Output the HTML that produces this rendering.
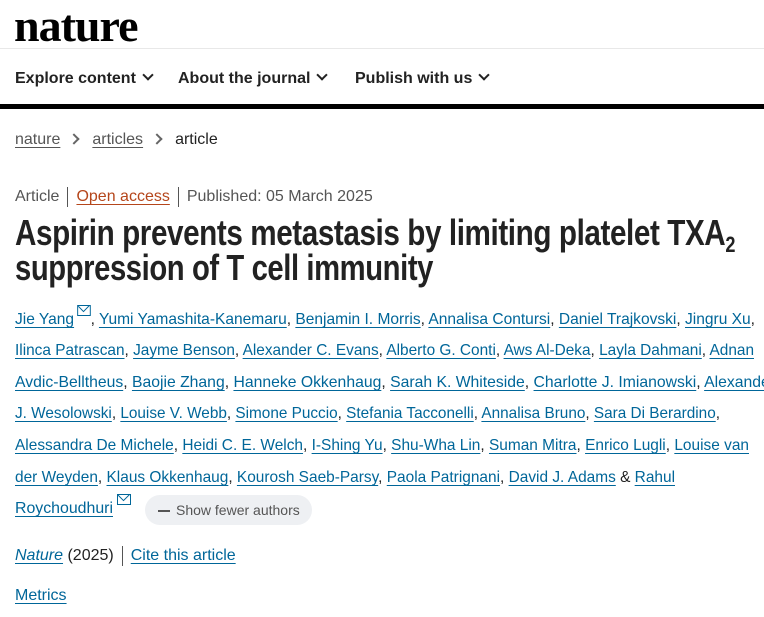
<!DOCTYPE html>
<html><head><meta charset="utf-8">
<style>
body{margin:0;width:764px;height:617px;overflow:hidden;background:#fff;font-family:"Liberation Sans",sans-serif;color:#222;position:relative}
.abs{position:absolute;white-space:nowrap}
a{color:#006699;text-decoration:underline;text-underline-offset:3px}
.fit{transform-origin:0 50%;display:inline-block;white-space:nowrap}
.nav{font-weight:bold;font-size:16px;color:#222;top:70px}
.chev{display:inline-block;width:6px;height:6px;border-right:2px solid #222;border-bottom:2px solid #222;transform:rotate(45deg);margin-left:8px;position:relative;top:-4px}
.auth{left:15px;font-size:16px;line-height:20px}
.sep{display:inline-block;width:1px;height:20px;background:#555;vertical-align:middle;margin:0 8px}
.bc{display:inline-block;width:6px;height:6px;border-right:2px solid #666;border-top:2px solid #666;transform:rotate(45deg);margin:0 14px 0 10px;position:relative;top:-1px}
.mail{display:inline-block;width:12px;height:9px;border:1.5px solid #006699;position:relative;top:-8px;margin-left:3px;overflow:hidden}
.mail:after{content:"";position:absolute;left:0px;top:-7px;width:9px;height:9px;border:1.5px solid #006699;transform:rotate(45deg)}
.tl{position:absolute;left:15px;width:1200px;white-space:nowrap;font-weight:bold;font-size:36px;color:#222;line-height:36px;letter-spacing:-0.5px}
</style></head><body>
<div class="abs" style="left:14px;top:-1px;font-family:'Liberation Serif',serif;font-weight:bold;font-size:46px;letter-spacing:-1px;color:#000">nature</div>
<div class="abs" style="left:0;top:48px;width:764px;height:1px;background:#e8e8e8"></div>
<div class="abs nav" style="left:15px">Explore content<span class="chev"></span></div>
<div class="abs nav" style="left:178px">About the journal<span class="chev"></span></div>
<div class="abs nav" style="left:355px">Publish with us<span class="chev"></span></div>
<div class="abs" style="left:0;top:104px;width:764px;height:5px;background:#000"></div>
<div class="abs" style="left:15px;top:131px;font-size:16px;color:#222">
<a style="color:#555" href="#">nature</a><span class="bc"></span><a style="color:#555" href="#">articles</a><span class="bc"></span>article</div>
<div class="abs" style="left:15px;top:187px;font-size:16px;color:#555">Article<span class="sep"></span><a style="color:#b5461b" href="#">Open access</a><span class="sep"></span>Published: 05 March 2025</div>
<div>
<div class="tl" style="top:215px"><span class="fit" data-w="720">Aspirin prevents metastasis by limiting platelet TXA<span style="font-size:22px;position:relative;top:7px">2</span></span></div>
<div class="tl" style="top:250px"><span class="fit" data-w="418">suppression of T cell immunity</span></div>
</div>
<div>
<div class="abs auth" style="top:310px"><span class="fit" data-w="740"><a href="#">Jie Yang</a><span class="mail"></span>, <a href="#">Yumi Yamashita-Kanemaru</a>, <a href="#">Benjamin I. Morris</a>, <a href="#">Annalisa Contursi</a>, <a href="#">Daniel Trajkovski</a>, <a href="#">Jingru Xu</a>,</span></div>
<div class="abs auth" style="top:341px"><span class="fit" data-w="739"><a href="#">Ilinca Patrascan</a>, <a href="#">Jayme Benson</a>, <a href="#">Alexander C. Evans</a>, <a href="#">Alberto G. Conti</a>, <a href="#">Aws Al-Deka</a>, <a href="#">Layla Dahmani</a>, <a href="#">Adnan</a></span></div>
<div class="abs auth" style="top:373px"><span class="fit" data-w="760"><a href="#">Avdic-Belltheus</a>, <a href="#">Baojie Zhang</a>, <a href="#">Hanneke Okkenhaug</a>, <a href="#">Sarah K. Whiteside</a>, <a href="#">Charlotte J. Imianowski</a>, <a href="#">Alexander</a></span></div>
<div class="abs auth" style="top:404px"><span class="fit" data-w="705"><a href="#">J. Wesolowski</a>, <a href="#">Louise V. Webb</a>, <a href="#">Simone Puccio</a>, <a href="#">Stefania Tacconelli</a>, <a href="#">Annalisa Bruno</a>, <a href="#">Sara Di Berardino</a>,</span></div>
<div class="abs auth" style="top:436px"><span class="fit" data-w="734"><a href="#">Alessandra De Michele</a>, <a href="#">Heidi C. E. Welch</a>, <a href="#">I-Shing Yu</a>, <a href="#">Shu-Wha Lin</a>, <a href="#">Suman Mitra</a>, <a href="#">Enrico Lugli</a>, <a href="#">Louise van</a></span></div>
<div class="abs auth" style="top:468px"><span class="fit" data-w="660"><a href="#">der Weyden</a>, <a href="#">Klaus Okkenhaug</a>, <a href="#">Kourosh Saeb-Parsy</a>, <a href="#">Paola Patrignani</a>, <a href="#">David J. Adams</a> &amp; <a href="#">Rahul</a></span></div>
<div class="abs auth" style="top:499px"><span class="fit" data-w="98"><a href="#">Roychoudhuri</a></span><span class="mail"></span></div>
</div>
<div class="abs" style="left:145px;top:495px;width:167px;height:30px;border-radius:15px;background:#eef0f3;font-size:14px;color:#555;line-height:30px">
<span style="display:inline-block;width:12px;height:2px;background:#555;vertical-align:middle;margin:0 6px 0 13px"></span>Show fewer authors</div>
<div class="abs" style="left:15px;top:546px;font-size:16px;color:#222"><a href="#" style="font-style:italic">Nature</a> (2025)<span class="sep" style="background:#555"></span><a href="#">Cite this article</a></div>
<div class="abs" style="left:15px;top:587px;font-size:16px"><a href="#" style="color:#006699">Metrics</a></div>
<script>
document.querySelectorAll('.fit').forEach(function(el){
  var w=+el.getAttribute('data-w');var r=el.getBoundingClientRect().width;
  if(r>0)el.style.transform='scaleX('+(w/r)+')';
});
</script>
</body></html>
